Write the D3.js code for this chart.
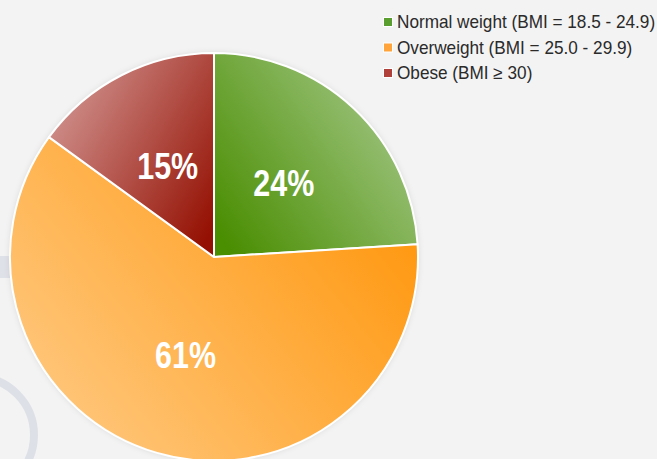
<!DOCTYPE html>
<html>
<head>
<meta charset="utf-8">
<script src="https://cdn.jsdelivr.net/npm/d3@7/dist/d3.min.js"></script>
<style>
  html, body { margin: 0; padding: 0; background: #f3f3f3; }
  svg { display: block; }
</style>
</head>
<body>
<svg id="chart" width="657" height="459"></svg>
<script>
// BMI distribution shares (percent of adults)
const categories = [
  "Normal weight (BMI = 18.5 - 24.9)",
  "Overweight (BMI = 25.0 - 29.9)",
  "Obese (BMI \u2265 30)"
];
const shares = [24, 61, 15];
const shareLabels = ["24%", "61%", "15%"];

// gradient stops per slice: dark end -> light end
const darkColors = ["#4a8e02", "#ff9810", "#941002"];
const lightColors = ["#a9cb90", "#ffcc88", "#d49a97"];
// gradient direction per slice, in the slice's bounding box [x1, y1, x2, y2]
const gradientDirs = [[0, 0.85, 1, 0.15], [1, 0.3, 0, 0.95], [1, 0.85, 0, 0.15]];
const swatchColors = ["#5a9e30", "#ffa43a", "#b0403a"];

const W = 657, H = 459;
const cx = 214, cy = 257, R = 204;

const svg = d3.select("#chart");
const defs = svg.append("defs");

// soft shadow around the pie
const shadow = defs.append("filter").attr("id", "pieShadow")
  .attr("x", "-20%").attr("y", "-20%").attr("width", "140%").attr("height", "140%");
shadow.append("feDropShadow")
  .attr("dx", 0).attr("dy", 0).attr("stdDeviation", 3)
  .attr("flood-color", "#000").attr("flood-opacity", 0.12);

// decorative background shapes
svg.append("rect").attr("x", 0).attr("y", 256).attr("width", 30).attr("height", 22)
  .attr("fill", "#dfe1e8");
svg.append("circle").attr("cx", -24).attr("cy", 435).attr("r", 58)
  .attr("fill", "none").attr("stroke", "#dde0e7").attr("stroke-width", 8);

const pie = d3.pie().sort(null).value(d => d);
const arcs = pie(shares);
const arc = d3.arc().innerRadius(0).outerRadius(R);

arcs.forEach((a, i) => {
  const [x1, y1, x2, y2] = gradientDirs[i];
  const g = defs.append("linearGradient")
    .attr("id", "grad" + i)
    .attr("x1", x1).attr("y1", y1).attr("x2", x2).attr("y2", y2);
  g.append("stop").attr("offset", "0%").attr("stop-color", darkColors[i]);
  g.append("stop").attr("offset", "100%").attr("stop-color", lightColors[i]);
});

const gPie = svg.append("g").attr("transform", `translate(${cx},${cy})`);

gPie.append("circle").attr("r", R).attr("fill", "#ffffff").attr("filter", "url(#pieShadow)");

gPie.selectAll("path.slice")
  .data(arcs)
  .join("path")
  .attr("class", "slice")
  .attr("d", arc)
  .attr("fill", (d, i) => `url(#grad${i})`)
  .attr("stroke", "#ffffff")
  .attr("stroke-width", 2)
  .attr("stroke-linejoin", "round");

const labelArc = d3.arc().innerRadius(R * 0.5).outerRadius(R * 0.5);
gPie.selectAll("text.pct")
  .data(arcs)
  .join("text")
  .attr("class", "pct")
  .attr("transform", d => `translate(${labelArc.centroid(d)})`)
  .attr("text-anchor", "middle")
  .attr("dy", "0.36em")
  .attr("font-family", "'Liberation Sans', Arial, sans-serif")
  .attr("font-weight", "bold")
  .attr("font-size", 37)
  .attr("textLength", 61)
  .attr("lengthAdjust", "spacingAndGlyphs")
  .attr("fill", "#ffffff")
  .text((d, i) => shareLabels[i]);

// legend
const legend = svg.append("g").attr("transform", "translate(383,0)");
const rowY = d3.scalePoint().domain(d3.range(categories.length)).range([22, 73]);
const rows = legend.selectAll("g.row")
  .data(categories)
  .join("g")
  .attr("class", "row")
  .attr("transform", (d, i) => `translate(0,${rowY(i)})`);
rows.append("rect")
  .attr("x", 0.5).attr("y", -4.5).attr("width", 9).attr("height", 9)
  .attr("fill", (d, i) => swatchColors[i])
  .attr("stroke", "#ffffff").attr("stroke-width", 1);
rows.append("text")
  .attr("x", 14).attr("dy", "0.36em")
  .attr("transform", "translate(14,0) scale(0.955,1) translate(-14,0)")
  .attr("font-family", "'Liberation Sans', Arial, sans-serif")
  .attr("font-size", 18)
  .attr("fill", "#2a2a2a")
  .text(d => d);
</script>
</body>
</html>
